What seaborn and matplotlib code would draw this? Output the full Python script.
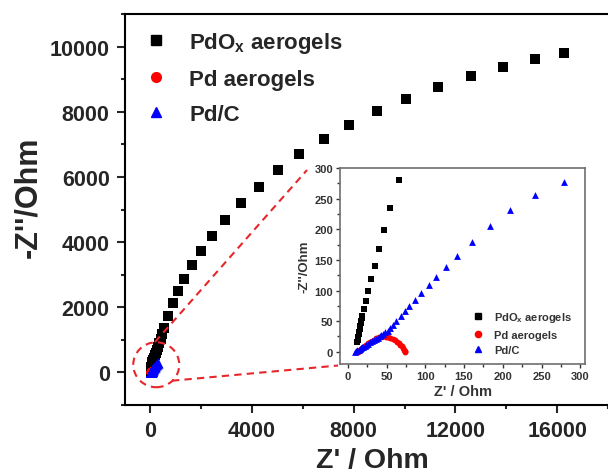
import numpy as np
import pandas as pd
import matplotlib
matplotlib.use("Agg")
import matplotlib.pyplot as plt
from matplotlib.lines import Line2D
from matplotlib.patches import Ellipse
from matplotlib.ticker import MultipleLocator
import seaborn as sns

sns.set_style("white")
plt.rcParams['font.family'] = ['Liberation Sans', 'DejaVu Sans']
plt.rcParams['font.weight'] = 'bold'
plt.rcParams['mathtext.fontset'] = 'custom'
plt.rcParams['mathtext.rm'] = 'Liberation Sans:bold'
plt.rcParams['mathtext.bf'] = 'Liberation Sans:bold'
plt.rcParams['mathtext.default'] = 'rm'

# ---------------- data ----------------
series_names = ["PdO$_x$ aerogels", "Pd aerogels", "Pd/C"]

pdox_zre = [12.4, 13.0, 13.6, 14.2, 14.8, 15.4, 16.0, 16.6, 17.2, 17.8, 18.9, 21.5, 24.1, 26.6, 30.1,
            35.3, 40.1, 46.9, 54.7, 65.9,
            80, 95, 115, 140, 170, 205, 245, 290, 340, 400, 470,
            551, 708, 893, 1101, 1337, 1640, 2006, 2438, 2950, 3567, 4259, 5023, 5860,
            6843, 7827, 8916, 10068, 11315, 12613, 13884, 15142, 16283]
pdox_zim = [15.3, 19.5, 24.0, 28.5, 33.0, 37.5, 42.0, 46.5, 51.0, 55.0, 58.8, 69.2, 83.3, 98.6, 118.2,
            140.5, 167.2, 198.7, 235.2, 280.4,
            305, 340, 390, 450, 520, 600, 690, 790, 900, 1030, 1180,
            1353, 1719, 2116, 2503, 2879, 3306, 3712, 4192, 4680, 5199, 5697, 6207, 6704,
            7173, 7600, 8029, 8406, 8750, 9107, 9382, 9626, 9812]

pd_zre = [13.5, 14.5, 15.5, 17, 18.5, 20, 22, 24, 26.5, 29, 31.5, 34, 37, 40, 43, 46, 49, 52,
          55, 58, 60.5, 63, 65.5, 67.5, 69.5, 71, 72.5, 73.5, 74]
pd_zim = [-1, 0.8, 2.6, 4.4, 6.2, 7.8, 9.6, 11.5, 13.8, 16.0, 18.0, 19.9, 21.9, 23.5, 24.6, 25, 24.8, 24.0,
          22.7, 20.8, 18.8, 16.4, 13.7, 11.2, 8.6, 6.1, 3.6, 1.6, 0]

pdc_zre = [9.5, 11, 12.5, 14, 15.5, 17, 18.5, 20, 22, 24, 26, 28.5, 31, 33.5, 36, 38.5, 41, 43.5,
           46, 48.5, 51.5, 55, 58.5, 62.4, 68.9, 74.4, 79.6, 86.9, 94.7, 104.2, 114.1, 126.6,
           141.2, 160.5, 182.9, 209.6, 241.0, 278.5]
pdc_zim = [0, 1.2, 2.4, 3.6, 4.8, 6.0, 7.2, 8.4, 10.0, 11.6, 13.2, 15.2, 17.1, 19.0, 20.9, 22.9,
           24.9, 26.9, 29.0, 31.6, 34.5, 38.5, 44.0, 50.5, 58.5, 67.0, 75.0, 84.5, 95.3, 108.6,
           122.3, 138.3, 156.5, 179.7, 205.8, 231.9, 255.9, 276.6]

main_xticks = [0, 4000, 8000, 12000, 16000]
main_yticks = [0, 2000, 4000, 6000, 8000, 10000]
inset_xticks = [0, 50, 100, 150, 200, 250, 300]
inset_yticks = [0, 50, 100, 150, 200, 250, 300]

frames = [
    pd.DataFrame({"zre": pdox_zre, "zim": pdox_zim}),
    pd.DataFrame({"zre": pd_zre, "zim": pd_zim}),
    pd.DataFrame({"zre": pdc_zre, "zim": pdc_zim}),
]
colors = ["#000000", "#ff0000", "#0000ff"]
markers = ["s", "o", "^"]
main_sizes = [50, 50, 55]
inset_sizes = [16, 18, 24]

W, H = 608, 477
fig = plt.figure(figsize=(W / 100, H / 100), dpi=100)

# ---------------- main axes ----------------
ax_right_px = 620
ax = fig.add_axes([125 / W, 1 - 406 / H, (ax_right_px - 125) / W, (406 - 15) / H])
for i, d in enumerate(frames):
    sns.scatterplot(data=d, x="zre", y="zim", color=colors[i], marker=markers[i],
                    s=main_sizes[i], linewidth=0, legend=False, ax=ax, zorder=3 + i)
ax.set_xlim(-1000, 18000 + (ax_right_px - 608) * 19000 / 483)
ax.set_ylim(-1000, 11000)
ax.set_xticks(main_xticks)
ax.set_yticks(main_yticks)
ax.xaxis.set_minor_locator(MultipleLocator(2000))
ax.yaxis.set_minor_locator(MultipleLocator(1000))
ax.tick_params(which='major', direction='out', length=6, width=1.5, labelsize=15.5, pad=5,
               bottom=True, left=True)
ax.tick_params(which='minor', direction='out', length=3, width=1.5, bottom=True, left=True)
for sp in ['left', 'bottom', 'top']:
    ax.spines[sp].set_linewidth(1.5)
    ax.spines[sp].set_color('black')
ax.spines['right'].set_visible(False)
ax.set_xlabel("Z' / Ohm", fontsize=20.5, fontweight='bold', labelpad=4)
ax.set_ylabel("-Z''/Ohm", fontsize=22, fontweight='bold')
ax.yaxis.set_label_coords(-0.165, (406 - 197) / 391)

handles = [Line2D([], [], marker=markers[i], color=colors[i], ls='none', ms=7) for i in range(3)]
ax.legend(handles, series_names, loc='upper left', bbox_to_anchor=(145 / W, 1 - 31 / H),
          bbox_transform=fig.transFigure, frameon=False, fontsize=16, borderpad=0,
          borderaxespad=0, handlelength=1.0, handletextpad=1.0, labelspacing=0.62)

# red dashed zoom indicators
red = "#e8262a"
ax.add_patch(Ellipse((230, 235), 1810, 1380, fill=False, ec=red, lw=1.5,
                     ls=(0, (3.5, 2.5)), zorder=8, clip_on=False))
ax.plot([180, 6160], [933, 6212], color=red, lw=1.5, ls=(0, (3.5, 2.5)), zorder=8)
ax.plot([850, 7380], [-255, 212], color=red, lw=1.5, ls=(0, (3.5, 2.5)), zorder=8)

# ---------------- inset ----------------
grey = "#333333"
ins = fig.add_axes([340 / W, 1 - 365 / H, 245 / W, 196 / H])
ins.set_facecolor('white')
for i, d in enumerate(frames):
    sns.scatterplot(data=d, x="zre", y="zim", color=colors[i], marker=markers[i],
                    s=inset_sizes[i], linewidth=0, legend=False, ax=ins, zorder=3 + i)
ins.set_xlim(-10, 306)
ins.set_ylim(-20, 300)
ins.set_xticks(inset_xticks)
ins.set_yticks(inset_yticks)
ins.xaxis.set_minor_locator(MultipleLocator(25))
ins.yaxis.set_minor_locator(MultipleLocator(25))
ins.tick_params(which='major', direction='out', length=3, width=1, labelsize=8, pad=2,
                colors=grey, bottom=True, left=True)
ins.tick_params(which='minor', direction='out', length=2, width=1, colors=grey,
                bottom=True, left=True)
for sp in ins.spines.values():
    sp.set_linewidth(1.2)
    sp.set_color('#6e6e6e')
ins.set_xlabel("Z' / Ohm", fontsize=10.5, fontweight='bold', color=grey, labelpad=2)
ins.set_ylabel("-Z''/Ohm", fontsize=9.5, fontweight='bold', color=grey, labelpad=3)

ih = [Line2D([], [], marker=markers[i], color=colors[i], ls='none', ms=4.5) for i in range(3)]
leg2 = ins.legend(ih, series_names, loc='upper left', bbox_to_anchor=(472 / W, 1 - 311 / H),
                  bbox_transform=fig.transFigure, frameon=False, fontsize=8, borderpad=0,
                  borderaxespad=0, handlelength=1.0, handletextpad=1.0, labelspacing=0.5)
for t in leg2.get_texts():
    t.set_color(grey)

fig.savefig("out.png", dpi=100)
